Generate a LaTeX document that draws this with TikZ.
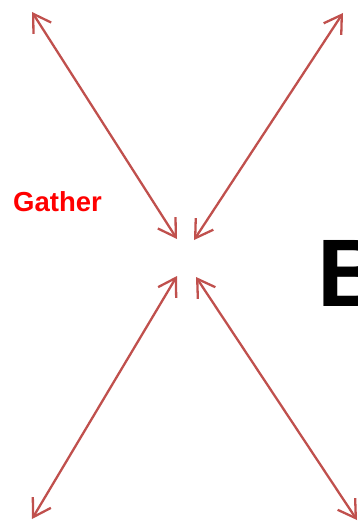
\documentclass[tikz,border=0pt]{standalone}
\usepackage{fontspec}
\setmainfont{Liberation Sans}
\usetikzlibrary{arrows.meta}
\definecolor{arr}{RGB}{192,80,77}
\begin{document}
\begin{tikzpicture}[x=1pt,y=-1pt,
  barb/.tip={Straight Barb[length=17pt,width=21pt]},
  dbl/.style={draw=arr, line width=2.3pt, barb-barb}]
\useasboundingbox (0,0) rectangle (358,521);
\coordinate (tl) at (32,12);
\coordinate (tr) at (343,13);
\coordinate (bl) at (32,519);
\coordinate (br) at (357,520);
\coordinate (ctl) at (177,239);
\coordinate (ctr) at (194,240);
\coordinate (cbl) at (177,276);
\coordinate (cbr) at (196,277);
\draw[dbl] (tl) -- (ctl);
\draw[dbl] (tr) -- (ctr);
\draw[dbl] (bl) -- (cbl);
\draw[dbl] (br) -- (cbr);
\node[anchor=base, inner sep=0, text=red, font=\bfseries\fontsize{27.5}{27.5}\selectfont] (gather) at (57.5,211.5) {Gather};
\node[anchor=base west, inner sep=0, font=\bfseries\fontsize{96}{96}\selectfont] (big) at (317,306) {B};
\end{tikzpicture}
\end{document}
